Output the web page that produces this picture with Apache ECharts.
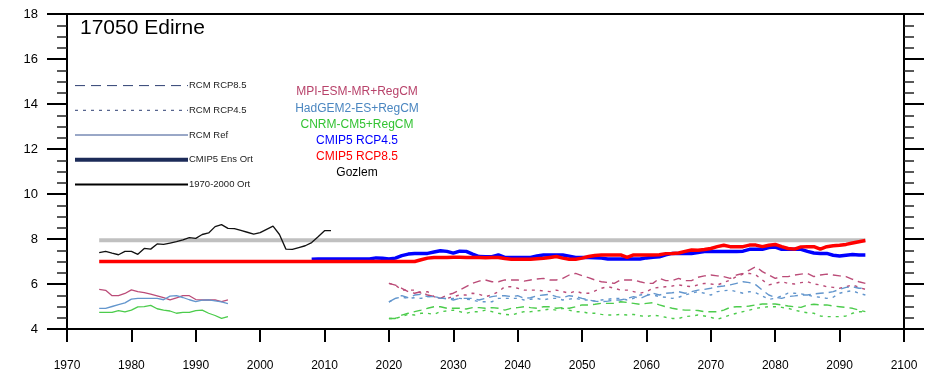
<!DOCTYPE html>
<html>
<head>
<meta charset="utf-8">
<script src="https://cdn.jsdelivr.net/npm/echarts@6/dist/echarts.min.js"></script>
<style>
  html, body { margin: 0; padding: 0; background: #fff; }
  #chart { width: 933px; height: 379px; }
</style>
</head>
<body>
<div id="chart"></div>
<script>
// --- data ---
const stationTitle = "17050 Edirne";

// observations 1975-2011
const obsStart = 1975;
const obsValues = [7.39, 7.45, 7.37, 7.30, 7.45, 7.45, 7.32, 7.58, 7.55, 7.78,
  7.76, 7.82, 7.88, 7.96, 8.06, 8.03, 8.20, 8.27, 8.55, 8.64,
  8.47, 8.46, 8.38, 8.30, 8.22, 8.28, 8.43, 8.57, 8.20, 7.55,
  7.54, 7.62, 7.70, 7.84, 8.10, 8.37, 8.37];

// 1970-2000 mean, drawn 1975-2094
const refMeanYears = [1975, 2094];
const refMeanValues = [7.95, 7.95];

// CMIP5 ensemble RCP8.5, 1975-2094
const cmipRcp85Start = 1975;
const cmipRcp85 = [7.00, 7.00, 7.00, 7.00, 7.00, 7.00, 7.00, 7.00, 7.00, 7.00,
  7.00, 7.00, 7.00, 7.00, 7.00, 7.00, 7.00, 7.00, 7.00, 7.00,
  7.00, 7.00, 7.00, 7.00, 7.00, 7.00, 7.00, 7.00, 7.00, 7.00,
  7.00, 7.00, 7.00, 7.00, 7.00, 7.00, 7.00, 7.00, 7.00, 7.00,
  7.00, 7.00, 7.00, 7.00, 7.00, 7.00, 7.00, 7.00, 7.00, 7.00,
  7.08, 7.15, 7.18, 7.18, 7.18, 7.19, 7.19, 7.18, 7.18, 7.18,
  7.17, 7.18, 7.18, 7.13, 7.10, 7.10, 7.10, 7.10, 7.12, 7.14,
  7.18, 7.22, 7.15, 7.10, 7.10, 7.15, 7.22, 7.27, 7.29, 7.29,
  7.29, 7.29, 7.18, 7.29, 7.29, 7.29, 7.29, 7.30, 7.35, 7.36,
  7.38, 7.45, 7.51, 7.50, 7.53, 7.58, 7.66, 7.72, 7.66, 7.66,
  7.66, 7.73, 7.73, 7.66, 7.72, 7.76, 7.66, 7.58, 7.55, 7.65,
  7.66, 7.66, 7.55, 7.66, 7.70, 7.72, 7.76, 7.82, 7.88, 7.93];

// CMIP5 ensemble RCP4.5, 2008-2094
const cmipRcp45Start = 2008;
const cmipRcp45 = [7.10, 7.11, 7.11, 7.11, 7.11, 7.11, 7.11, 7.11, 7.11, 7.11,
  7.16, 7.14, 7.11, 7.15, 7.26, 7.33, 7.36, 7.36, 7.36, 7.42,
  7.48, 7.45, 7.37, 7.46, 7.45, 7.33, 7.22, 7.21, 7.21, 7.29,
  7.18, 7.18, 7.18, 7.18, 7.18, 7.25, 7.29, 7.29, 7.29, 7.29,
  7.24, 7.18, 7.18, 7.18, 7.17, 7.15, 7.11, 7.11, 7.11, 7.11,
  7.11, 7.11, 7.16, 7.19, 7.21, 7.30, 7.36, 7.36, 7.36, 7.36,
  7.40, 7.44, 7.44, 7.44, 7.44, 7.44, 7.44, 7.46, 7.54, 7.54,
  7.54, 7.62, 7.64, 7.54, 7.54, 7.54, 7.54, 7.45, 7.38, 7.36,
  7.36, 7.28, 7.24, 7.28, 7.31, 7.29, 7.29];

// RCM reference runs 1975-1995
const rcmRefStart = 1975;
const mpiRef = [5.76, 5.72, 5.48, 5.48, 5.58, 5.74, 5.66, 5.62, 5.55, 5.47,
  5.39, 5.29, 5.38, 5.48, 5.48, 5.31, 5.29, 5.29, 5.29, 5.22, 5.29];
const hadRef = [4.92, 4.92, 5.00, 5.08, 5.16, 5.33, 5.36, 5.36, 5.36, 5.36,
  5.30, 5.46, 5.48, 5.40, 5.30, 5.22, 5.28, 5.29, 5.25, 5.21, 5.13];
const cnrmRef = [4.74, 4.74, 4.74, 4.82, 4.76, 4.84, 4.98, 4.99, 5.05, 4.90,
  4.84, 4.80, 4.70, 4.74, 4.74, 4.82, 4.84, 4.70, 4.60, 4.47, 4.55];

// RCM scenario runs 2020-2094
const rcmScenStart = 2020;
const mpiRcp85 = [6.03, 5.95, 5.81, 5.66, 5.59, 5.66, 5.51, 5.44, 5.36, 5.51,
  5.59, 5.73, 5.88, 6.03, 6.13, 6.18, 6.10, 6.10, 6.18, 6.18,
  6.18, 6.13, 6.18, 6.22, 6.25, 6.18, 6.18, 6.25, 6.40, 6.47,
  6.37, 6.28, 6.18, 6.10, 6.07, 6.03, 6.18, 6.18, 6.18, 6.10,
  6.03, 6.03, 6.25, 6.15, 6.15, 6.25, 6.15, 6.15, 6.30, 6.36,
  6.40, 6.36, 6.33, 6.25, 6.40, 6.47, 6.62, 6.77, 6.55, 6.40,
  6.25, 6.33, 6.33, 6.40, 6.44, 6.47, 6.33, 6.40, 6.44, 6.40,
  6.36, 6.33, 6.21, 6.10, 6.03];
const mpiRcp45 = [6.03, 5.95, 5.73, 5.73, 5.73, 5.59, 5.66, 5.44, 5.36, 5.36,
  5.44, 5.51, 5.51, 5.59, 5.54, 5.44, 5.51, 5.66, 5.88, 5.88,
  5.81, 5.73, 5.73, 5.73, 5.69, 5.66, 5.73, 5.66, 5.59, 5.69,
  5.59, 5.59, 5.69, 5.81, 5.88, 5.81, 5.73, 5.73, 5.66, 5.59,
  5.66, 5.81, 5.85, 5.88, 5.91, 5.96, 5.91, 5.88, 5.96, 6.03,
  6.00, 5.96, 6.06, 6.18, 6.33, 6.44, 6.47, 6.40, 6.18, 5.96,
  6.03, 6.10, 6.03, 6.00, 6.06, 6.10, 6.00, 5.96, 5.88, 5.85,
  5.81, 5.88, 5.96, 5.85, 5.76];
const hadRcp85 = [5.21, 5.36, 5.48, 5.39, 5.51, 5.54, 5.44, 5.44, 5.36, 5.36,
  5.29, 5.36, 5.36, 5.36, 5.29, 5.36, 5.44, 5.48, 5.48, 5.44,
  5.48, 5.36, 5.39, 5.48, 5.51, 5.54, 5.44, 5.39, 5.48, 5.44,
  5.36, 5.29, 5.24, 5.21, 5.24, 5.29, 5.29, 5.36, 5.44, 5.36,
  5.48, 5.59, 5.51, 5.59, 5.61, 5.66, 5.59, 5.66, 5.73, 5.76,
  5.81, 5.88, 5.91, 5.96, 6.03, 6.10, 6.06, 5.96, 5.73, 5.51,
  5.41, 5.36, 5.44, 5.47, 5.51, 5.51, 5.56, 5.59, 5.61, 5.66,
  5.76, 5.85, 5.88, 5.81, 5.81];
const hadRcp45 = [5.19, 5.36, 5.42, 5.36, 5.39, 5.36, 5.44, 5.44, 5.39, 5.33,
  5.36, 5.36, 5.33, 5.29, 5.21, 5.21, 5.21, 5.36, 5.36, 5.36,
  5.36, 5.29, 5.32, 5.36, 5.29, 5.36, 5.36, 5.29, 5.33, 5.36,
  5.29, 5.29, 5.24, 5.29, 5.32, 5.36, 5.36, 5.29, 5.36, 5.51,
  5.54, 5.51, 5.44, 5.41, 5.36, 5.41, 5.51, 5.59, 5.66, 5.59,
  5.51, 5.66, 5.70, 5.73, 5.66, 5.59, 5.66, 5.61, 5.47, 5.32,
  5.36, 5.47, 5.59, 5.59, 5.56, 5.51, 5.44, 5.41, 5.36, 5.41,
  5.59, 5.66, 5.70, 5.59, 5.51];
const cnrmRcp85 = [4.47, 4.47, 4.62, 4.70, 4.77, 4.84, 4.92, 4.99, 4.99, 4.92,
  4.92, 4.92, 4.89, 4.95, 4.95, 4.92, 4.95, 4.92, 4.84, 4.92,
  4.95, 4.99, 4.95, 4.92, 4.99, 4.99, 4.92, 4.95, 4.92, 4.99,
  5.07, 5.07, 5.10, 5.14, 5.14, 5.14, 5.21, 5.18, 5.14, 5.10,
  5.14, 5.17, 5.07, 4.99, 4.92, 4.87, 4.84, 4.84, 4.82, 4.77,
  4.77, 4.77, 4.84, 4.96, 4.99, 4.99, 5.02, 5.07, 5.11, 5.11,
  5.11, 5.07, 5.02, 4.99, 4.96, 5.07, 5.10, 5.07, 5.07, 5.02,
  4.99, 4.96, 4.92, 4.84, 4.77];
const cnrmRcp45 = [4.47, 4.47, 4.55, 4.65, 4.62, 4.70, 4.70, 4.65, 4.77, 4.80,
  4.84, 4.77, 4.70, 4.77, 4.77, 4.84, 4.77, 4.70, 4.65, 4.62,
  4.70, 4.77, 4.77, 4.80, 4.84, 4.89, 4.84, 4.92, 4.84, 4.77,
  4.77, 4.70, 4.70, 4.65, 4.62, 4.62, 4.65, 4.62, 4.65, 4.59,
  4.55, 4.62, 4.58, 4.52, 4.47, 4.47, 4.55, 4.58, 4.62, 4.58,
  4.52, 4.43, 4.52, 4.62, 4.70, 4.77, 4.84, 4.92, 4.96, 4.99,
  4.99, 4.96, 4.92, 4.84, 4.77, 4.72, 4.70, 4.58, 4.55, 4.55,
  4.55, 4.58, 4.70, 4.77, 4.77];

// key on the left (line styles) and coloured labels in the middle
const styleKeyNames = ["RCM RCP8.5", "RCM RCP4.5", "RCM Ref", "CMIP5 Ens Ort", "1970-2000 Ort"];
const modelLabels = ["MPI-ESM-MR+RegCM", "HadGEM2-ES+RegCM", "CNRM-CM5+RegCM", "CMIP5 RCP4.5", "CMIP5 RCP8.5", "Gozlem"];

// --- chart ---
const MPI_COLOR = "#bb4c78";
const HAD_COLOR = "#6396cd";
const CNRM_COLOR = "#4ccc4c";
const labelColors = ["#b8436b", "#4a86c0", "#33c333", "#0000ff", "#ff0000", "#000000"];
const DASH_85 = [8, 5];
const DASH_45 = [3, 5];

const pairs = (start, values) => values.map((v, i) => [start + i, v]);

const lineSeries = (name, data, color, width, type, z) => ({
  name,
  type: "line",
  data,
  symbol: "none",
  symbolSize: 0,
  silent: true,
  z,
  itemStyle: { color, opacity: 0 },
  lineStyle: { color, width, type },
});

const keyStyles = [
  { color: "#2e3f72", width: 1, type: [10, 6] },
  { color: "#2e3f72", width: 1, type: [3, 5] },
  { color: "#35508f", width: 1, type: "solid" },
  { color: "#1c2b58", width: 4, type: "solid" },
  { color: "#000000", width: 2, type: "solid" },
];

const chart = echarts.init(document.getElementById("chart"), null, { renderer: "canvas" });

const yAxisBase = {
  type: "value",
  min: 4,
  max: 18,
  interval: 2,
  splitLine: { show: false },
  axisLine: { show: true, lineStyle: { color: "#000", width: 2 } },
  axisTick: { show: true, length: 20, lineStyle: { color: "#000", width: 2 } },
  minorTick: { show: true, splitNumber: 4, length: 10, lineStyle: { color: "#222", width: 1.5 } },
};

chart.setOption({
  animation: false,
  backgroundColor: "#fff",
  textStyle: { fontFamily: "Liberation Sans, Arial, sans-serif" },
  title: {
    text: stationTitle,
    left: 80,
    top: 18,
    padding: 0,
    textStyle: { fontSize: 21, fontWeight: "normal", color: "#000" },
  },
  legend: {
    data: styleKeyNames.map((name, i) => ({
      name,
      itemStyle: { opacity: 0 },
      lineStyle: { width: keyStyles[i].width, type: keyStyles[i].type, color: keyStyles[i].color },
    })),
    orient: "vertical",
    left: 73,
    top: 80,
    padding: 0,
    itemWidth: 113,
    itemHeight: 14,
    itemGap: 13.5,
    selectedMode: false,
    textStyle: { fontSize: 9.5, color: "#222", padding: [0, 0, 0, -4] },
  },
  graphic: modelLabels.map((text, i) => ({
    type: "text",
    x: 357,
    y: 92 + i * 16.2,
    silent: true,
    style: {
      text,
      fill: labelColors[i],
      font: "12px Liberation Sans, Arial, sans-serif",
      align: "center",
      verticalAlign: "middle",
    },
  })),
  grid: {
    left: 67,
    right: 29,
    top: 14,
    bottom: 50,
    show: true,
    borderColor: "#000",
    borderWidth: 2,
    backgroundColor: "transparent",
  },
  xAxis: {
    type: "value",
    min: 1970,
    max: 2100,
    interval: 10,
    splitLine: { show: false },
    axisLine: { show: true, lineStyle: { color: "#000", width: 2 } },
    axisTick: { show: true, length: 13, lineStyle: { color: "#000", width: 2 } },
    axisLabel: {
      margin: 31,
      fontSize: 12,
      color: "#000",
      fontFamily: "Liberation Sans Narrow, Liberation Sans, sans-serif",
      formatter: (v) => String(v),
    },
  },
  yAxis: [
    Object.assign({}, yAxisBase, {
      position: "left",
      axisLabel: { margin: 29, fontSize: 13, color: "#000" },
    }),
    Object.assign({}, yAxisBase, {
      position: "right",
      axisLabel: { show: false },
    }),
  ],
  series: [
    // legend-only entries for the line-style key
    ...styleKeyNames.map((name, i) => lineSeries(name, [], keyStyles[i].color, keyStyles[i].width, keyStyles[i].type, 1)),

    lineSeries("MPI RCP8.5", pairs(rcmScenStart, mpiRcp85), MPI_COLOR, 1.4, DASH_85, 2),
    lineSeries("MPI RCP4.5", pairs(rcmScenStart, mpiRcp45), MPI_COLOR, 1.4, DASH_45, 2),
    lineSeries("HadGEM RCP8.5", pairs(rcmScenStart, hadRcp85), HAD_COLOR, 1.4, DASH_85, 2),
    lineSeries("HadGEM RCP4.5", pairs(rcmScenStart, hadRcp45), HAD_COLOR, 1.4, DASH_45, 2),
    lineSeries("CNRM RCP8.5", pairs(rcmScenStart, cnrmRcp85), CNRM_COLOR, 1.4, DASH_85, 2),
    lineSeries("CNRM RCP4.5", pairs(rcmScenStart, cnrmRcp45), CNRM_COLOR, 1.4, DASH_45, 2),

    lineSeries("MPI Ref", pairs(rcmRefStart, mpiRef), MPI_COLOR, 1.3, "solid", 3),
    lineSeries("HadGEM Ref", pairs(rcmRefStart, hadRef), HAD_COLOR, 1.3, "solid", 3),
    lineSeries("CNRM Ref", pairs(rcmRefStart, cnrmRef), CNRM_COLOR, 1.3, "solid", 3),

    lineSeries("1970-2000 mean", refMeanYears.map((y, i) => [y, refMeanValues[i]]), "#c0c0c0", 4, "solid", 4),
    lineSeries("CMIP5 RCP4.5", pairs(cmipRcp45Start, cmipRcp45), "#0000ff", 3.5, "solid", 5),
    lineSeries("CMIP5 RCP8.5", pairs(cmipRcp85Start, cmipRcp85), "#ff0000", 3.5, "solid", 6),
    lineSeries("Gozlem", pairs(obsStart, obsValues), "#111111", 1.3, "solid", 7),
  ],
});
</script>
</body>
</html>
